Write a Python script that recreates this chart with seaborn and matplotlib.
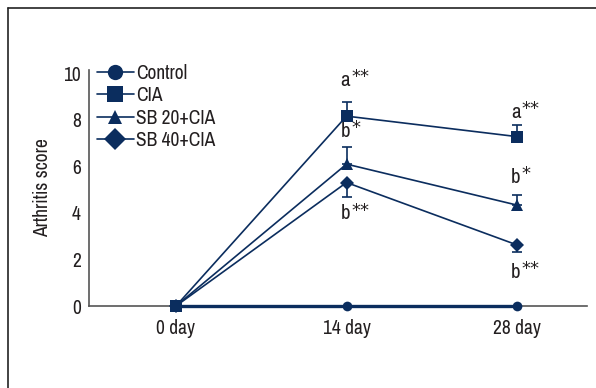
import matplotlib
matplotlib.use("Agg")
import matplotlib.pyplot as plt
from matplotlib.lines import Line2D
from matplotlib import font_manager
import seaborn as sns
import pandas as pd
import numpy as np

days = ["0 day", "14 day", "28 day"]
groups = ["Control", "CIA", "SB 20+CIA", "SB 40+CIA"]
control = [0.0, 0.0, 0.0]
cia = [0.0, 8.15, 7.27]
sb20 = [0.0, 6.09, 4.33]
sb40 = [0.0, 5.30, 2.62]
cia_err = [0.0, 0.62, 0.50]
sb20_err = [0.0, 0.72, 0.43]
sb40_err = [0.0, 0.60, 0.30]
yticks = [0, 2, 4, 6, 8, 10]

navy = "#0b2d5e"
txt = "#231f20"

sns.set_theme(style="white")
names = sorted({f.name for f in font_manager.fontManager.ttflist})
narrow = [n for n in names if "Narrow" in n or "Condensed" in n]
plt.rcParams["font.family"] = narrow[:1] + ["DejaVu Sans"]
plt.rcParams["font.stretch"] = "condensed"

series = {"Control": control, "CIA": cia, "SB 20+CIA": sb20, "SB 40+CIA": sb40}
rows = []
for g in groups:
    for i, d in enumerate(days):
        rows.append({"group": g, "x": i, "score": series[g][i]})
df = pd.DataFrame(rows)

fig = plt.figure(figsize=(5.96, 3.88), dpi=100)
ax = fig.add_axes([89 / 596, 1 - 306 / 388, (587 - 89) / 596, (306 - 70) / 388])

markers = {"Control": "o", "CIA": "s", "SB 20+CIA": "^", "SB 40+CIA": "D"}
sizes = {"Control": 7, "CIA": 8, "SB 20+CIA": 8, "SB 40+CIA": 7.5}

for g in ["CIA", "SB 20+CIA", "SB 40+CIA", "Control"]:
    sub = df[df.group == g]
    sns.lineplot(data=sub, x="x", y="score", ax=ax, color=navy,
                 marker=markers[g], markersize=sizes[g], markeredgewidth=0,
                 linewidth=2.4 if g == "Control" else 1.2, legend=False,
                 zorder=4 if g == "Control" else 3, clip_on=False)

# one-sided error bars
xs = np.arange(len(days))
for vals, err, up in [(cia, cia_err, True), (sb20, sb20_err, True), (sb40, sb40_err, False)]:
    e = np.array(err[1:])
    z = np.zeros_like(e)
    ax.errorbar(xs[1:], vals[1:], yerr=[z, e] if up else [e, z], fmt="none",
                ecolor=navy, elinewidth=1.2, capsize=3.5, capthick=1.2, zorder=2)

# significance labels: letter centred on the day, asterisks raised to its right
def sig(x, y, letter, stars):
    ax.annotate(letter, (x, y), xytext=(-1, 0), textcoords="offset points",
                ha="center", va="center", fontsize=15, color=txt)
    ax.annotate(stars, (x, y), xytext=(3.5, 2.5), textcoords="offset points",
                ha="left", va="center", fontsize=13, color=txt,
                family=["DejaVu Sans"], fontstretch="normal")

sig(1, 9.7, "a", "**")
sig(1, 7.5, "b", "*")
sig(1, 3.95, "b", "**")
sig(2, 8.3, "a", "**")
sig(2, 5.5, "b", "*")
sig(2, 1.45, "b", "**")

ax.set_xlim(-0.51, 2.41)
ax.set_ylim(0, 10.13)
ax.set_xticks(xs)
ax.set_xticklabels(days)
ax.set_yticks(yticks)
ax.set_yticklabels([str(t) for t in yticks])
ax.tick_params(axis="both", length=0, labelsize=14, colors=txt)
ax.tick_params(axis="x", pad=9)
ax.tick_params(axis="y", pad=6)
ax.set_xlabel("")
ax.set_ylabel("Arthritis score", fontsize=14, color=txt, labelpad=8)
for s in ["top", "right"]:
    ax.spines[s].set_visible(False)
for s in ["left", "bottom"]:
    ax.spines[s].set_color("#555555")
    ax.spines[s].set_linewidth(1.2)

handles = [Line2D([], [], color=navy, marker=markers[g], markersize=11 if g != "SB 20+CIA" else 10,
                  markeredgewidth=0, linewidth=1.2) for g in groups]
leg = ax.legend(handles, groups, loc="upper left", bbox_to_anchor=(0.0, 1.06),
                frameon=False, fontsize=14, handlelength=1.9, handletextpad=0.1,
                labelspacing=0.18, borderaxespad=0.2, borderpad=0.2)
for t in leg.get_texts():
    t.set_color(txt)

# frame lines around the figure
fig.add_artist(Line2D([8 / 596, 8 / 596], [0, 1 - 8 / 388], transform=fig.transFigure,
                      color="#222222", linewidth=1.2))
fig.add_artist(Line2D([8 / 596, 1], [1 - 8 / 388, 1 - 8 / 388], transform=fig.transFigure,
                      color="#222222", linewidth=1.2))

fig.savefig("out.png", dpi=100)
